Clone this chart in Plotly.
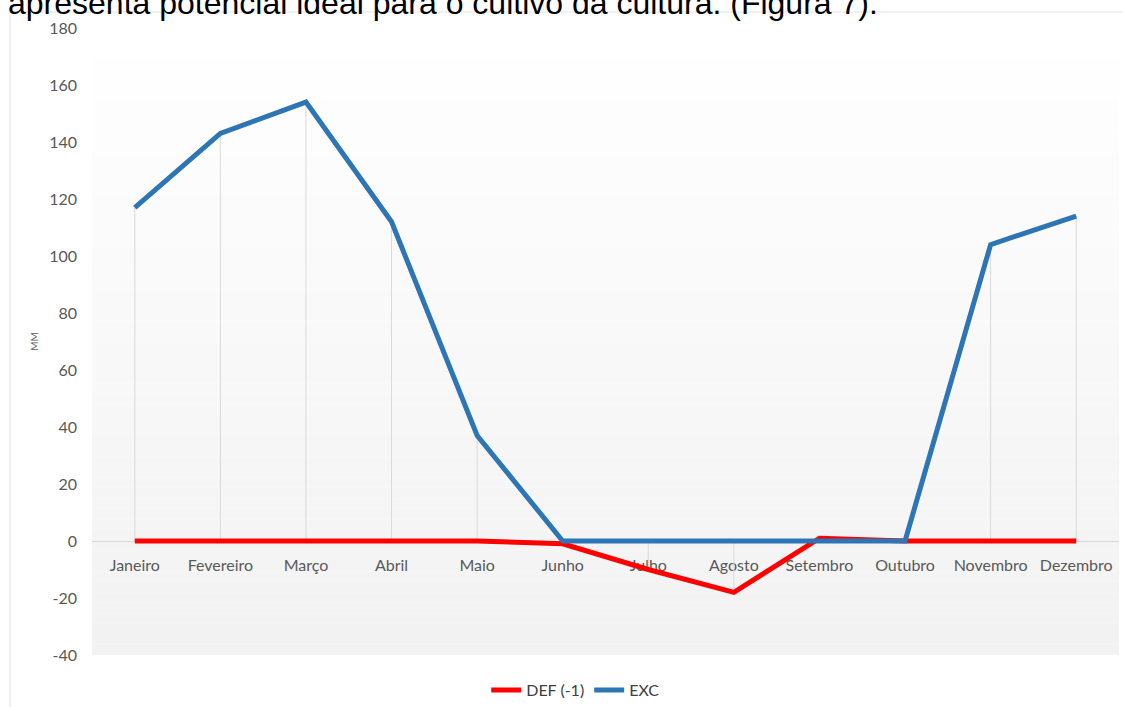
import plotly.graph_objects as go

months = ["Janeiro", "Fevereiro", "Março", "Abril", "Maio", "Junho", "Julho",
          "Agosto", "Setembro", "Outubro", "Novembro", "Dezembro"]
def_values = [0, 0, 0, 0, 0, -1, -10, -18, 1, 0, 0, 0]
exc_values = [117, 143, 154, 112, 37, 0, 0, 0, 0, 0, 104, 114]
y_ticks = [-40, -20, 0, 20, 40, 60, 80, 100, 120, 140, 160, 180]
y_tick_text = ["-40", "-20", "0", "20", "40", "60", "80", "100", "120", "140", "160", "180"]

W, H = 1123, 707
L, R, T, B = 92, 4, 28, 52
pw, ph = W - L - R, H - T - B

def px(x):
    return (x - L) / pw

def py(y):
    return (H - B - y) / ph

fig = go.Figure()

# drop lines from data points to the category axis
dx, dy = [], []
for m, d, e in zip(months, def_values, exc_values):
    hi = max(0, d, e)
    lo = min(0, d, e)
    dx += [m, m, None]
    dy += [hi, lo, None]
fig.add_trace(go.Scatter(x=dx, y=dy, mode="lines", line=dict(color="#d9d9d9", width=1),
                         showlegend=False, hoverinfo="skip"))

fig.add_trace(go.Scatter(x=months, y=def_values, mode="lines", name="DEF (-1)",
                         line=dict(color="#ff0000", width=5)))
fig.add_trace(go.Scatter(x=months, y=exc_values, mode="lines", name="EXC",
                         line=dict(color="#2e75b6", width=5)))

# gradient background of the plot area
shapes = []
n = 60
for i in range(n):
    t = i / (n - 1)
    c = round(255 - 13 * t)
    shapes.append(dict(type="rect", xref="paper", yref="paper", layer="below",
                       x0=0, x1=1, y0=1 - (i + 1) / n, y1=1 - i / n,
                       fillcolor=f"rgb({c},{c},{c})", line=dict(width=0)))
# chart border
shapes.append(dict(type="rect", xref="paper", yref="paper", layer="below",
                   x0=px(10), x1=px(W + 20), y0=py(H + 20), y1=py(12),
                   fillcolor="rgba(0,0,0,0)", line=dict(color="#e3e3e3", width=1)))

fig.update_layout(
    width=W, height=H,
    margin=dict(l=L, r=R, t=T, b=B),
    paper_bgcolor="white", plot_bgcolor="rgba(0,0,0,0)",
    shapes=shapes,
    font=dict(family="Lato", color="#595959"),
    xaxis=dict(type="category", range=[-0.5, 11.5], anchor="free", position=40 / 220,
               showline=True, linecolor="#d9d9d9", linewidth=1, showgrid=False,
               layer="below traces", automargin=False,
               ticks="", tickfont=dict(size=16, color="#595959"), ticklabelstandoff=10),
    yaxis=dict(range=[-40, 180], tickvals=y_ticks, ticktext=y_tick_text,
               showgrid=False, zeroline=False, automargin=False,
               showline=False, ticks="", tickfont=dict(size=16, color="#595959"),
               ticklabelstandoff=14,
               title=dict(text="MM", font=dict(size=10, color="#595959"), standoff=8)),
    legend=dict(orientation="h", x=0.471, xanchor="center",
                yref="container", y=1 - 690 / H, yanchor="middle",
                font=dict(size=16, color="#404040"), itemwidth=30,
                bgcolor="rgba(0,0,0,0)"),
    annotations=[dict(text="apresenta potencial ideal para o cultivo da cultura. (Figura 7).",
                      xref="paper", yref="paper", x=px(6), y=py(23),
                      xanchor="left", yanchor="bottom", showarrow=False,
                      font=dict(family="Liberation Sans", size=32, color="black"))],
)

fig.write_html("out.html")
